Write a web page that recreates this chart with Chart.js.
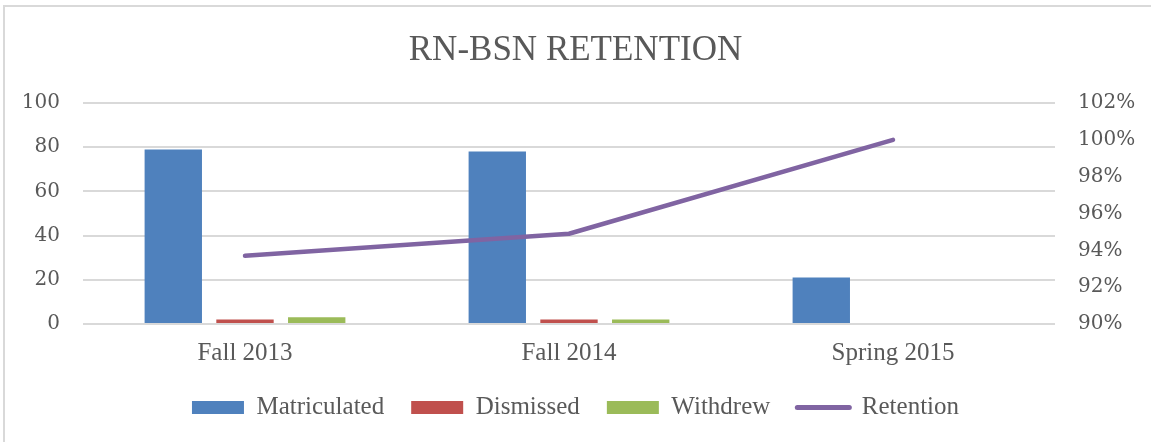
<!DOCTYPE html>
<html>
<head>
<meta charset="utf-8">
<script src="https://cdn.jsdelivr.net/npm/chart.js@4"></script>
<style>
  html, body { margin: 0; padding: 0; background: #fff; overflow: hidden; }
  #wrap { position: relative; width: 1151px; height: 442px; }
  #frame { position: absolute; left: 3px; top: 5px; width: 1160px; height: 450px;
           border: 2px solid #d9d9d9; pointer-events: none; box-sizing: border-box; }
</style>
</head>
<body>
<div id="wrap">
  <canvas id="chart" width="1151" height="442"></canvas>
  <div id="frame"></div>
</div>
<script>
const categories = ["Fall 2013", "Fall 2014", "Spring 2015"];
const matriculated = [79, 78, 21];
const dismissed = [2, 2, 0];
const withdrew = [3, 2, 0];
const retention = [93.7, 94.9, 100]; // percent

const leftTicks = { min: 0, max: 100, step: 20 };
const rightTicks = { min: 90, max: 102, step: 2 };

const textColor = "#595959";
const gridColor = "#d9d9d9";
const axisFont = { family: "'DejaVu Serif'", size: 20 };
const labelFont = { family: "'Liberation Serif'", size: 25 };

const barCommon = {
  type: "bar",
  yAxisID: "y",
  categoryPercentage: 0.664,
  barPercentage: 0.8,
  borderWidth: 0,
  order: 1,
};

new Chart(document.getElementById("chart"), {
  data: {
    labels: categories,
    datasets: [
      { ...barCommon, label: "Matriculated", data: matriculated, backgroundColor: "#4f81bd" },
      { ...barCommon, label: "Dismissed", data: dismissed, backgroundColor: "#c0504d" },
      { ...barCommon, label: "Withdrew", data: withdrew, backgroundColor: "#9bbb59" },
      {
        type: "line",
        label: "Retention",
        data: retention,
        yAxisID: "y1",
        borderColor: "#8064a2",
        backgroundColor: "#8064a2",
        borderWidth: 4.5,
        borderCapStyle: "round",
        borderJoinStyle: "round",
        pointRadius: 0,
        tension: 0,
        order: 0,
      },
    ],
  },
  options: {
    responsive: false,
    animation: false,
    layout: { padding: { top: 0, left: 0, right: 0, bottom: 12 } },
    plugins: {
      tooltip: { enabled: false },
      title: {
        display: true,
        text: "RN-BSN RETENTION",
        color: textColor,
        font: { family: "'Liberation Serif'", size: 35, weight: "normal" },
        padding: { top: 30, bottom: 31 },
      },
      legend: {
        position: "bottom",
        labels: {
          color: textColor,
          font: labelFont,
          usePointStyle: true,
          pointStyleWidth: 52,
          boxHeight: 13,
          padding: 27,
          generateLabels: (chart) => {
            const items = Chart.defaults.plugins.legend.labels.generateLabels(chart);
            items.forEach((it) => {
              const ds = chart.data.datasets[it.datasetIndex];
              if (ds.type === "line") {
                it.pointStyle = "line";
                it.lineWidth = 5;
                it.lineCap = "round";
              } else {
                it.pointStyle = "rect";
                it.lineWidth = 0;
              }
            });
            return items.sort((a, b) => a.datasetIndex - b.datasetIndex);
          },
        },
      },
    },
    scales: {
      x: {
        grid: { display: false, drawTicks: false },
        border: { display: false },
        ticks: { color: textColor, font: labelFont, padding: 14 },
        afterFit: (s) => { s.height = 44; },
      },
      y: {
        position: "left",
        min: leftTicks.min,
        max: leftTicks.max,
        ticks: { stepSize: leftTicks.step, color: textColor, font: axisFont, padding: 23 },
        grid: { color: gridColor, lineWidth: 2, drawTicks: false },
        border: { display: false },
        afterFit: (s) => { s.width = 83; },
      },
      y1: {
        position: "right",
        min: rightTicks.min,
        max: rightTicks.max,
        ticks: {
          stepSize: rightTicks.step,
          color: textColor,
          font: axisFont,
          padding: 23,
          callback: (v) => v + "%",
        },
        grid: { display: false, drawTicks: false },
        border: { display: false },
        afterFit: (s) => { s.width = 96; },
      },
    },
  },
});
</script>
</body>
</html>
